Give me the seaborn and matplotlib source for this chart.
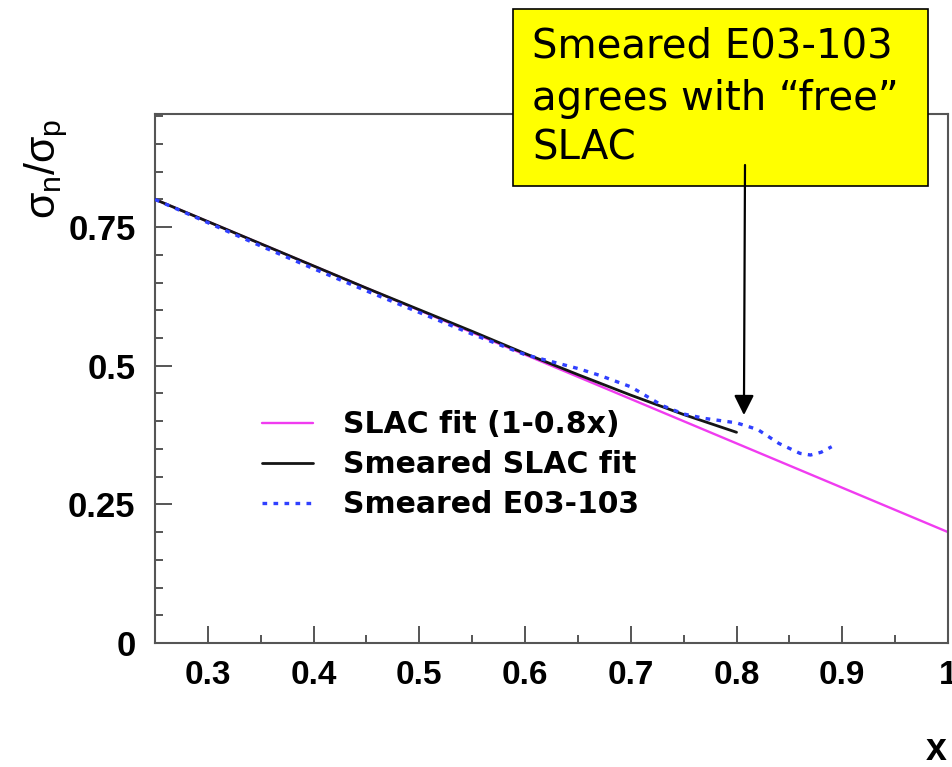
import numpy as np
import pandas as pd
import matplotlib
matplotlib.use("Agg")
import matplotlib.pyplot as plt
import seaborn as sns
from matplotlib.patches import Rectangle, FancyArrowPatch
from matplotlib.ticker import MultipleLocator

# SLAC fit sigma_n/sigma_p = 1 - 0.8 x
slac_x = [0.25, 1.0]
slac_y = [0.80, 0.20]

# Smeared SLAC fit
smear_x = [0.25, 0.30, 0.35, 0.40, 0.45, 0.50, 0.55, 0.60, 0.65, 0.70, 0.75, 0.80]
smear_y = [0.800, 0.760, 0.720, 0.680, 0.640, 0.601, 0.562, 0.522, 0.484, 0.447, 0.412, 0.380]

# Smeared E03-103
e03_x = [0.25, 0.30, 0.35, 0.40, 0.45, 0.50, 0.55, 0.60, 0.62, 0.65, 0.67, 0.70,
         0.73, 0.75, 0.77, 0.80, 0.82, 0.84, 0.86, 0.87, 0.88, 0.89]
e03_y = [0.800, 0.758, 0.716, 0.675, 0.635, 0.596, 0.557, 0.520, 0.510, 0.495, 0.483, 0.462,
         0.428, 0.413, 0.405, 0.397, 0.385, 0.360, 0.342, 0.339, 0.344, 0.354]

x_ticks = [0.3, 0.4, 0.5, 0.6, 0.7, 0.8, 0.9, 1.0]
x_tick_labels = ["0.3", "0.4", "0.5", "0.6", "0.7", "0.8", "0.9", "1"]
y_ticks = [0.0, 0.25, 0.5, 0.75]
y_tick_labels = ["0", "0.25", "0.5", "0.75"]

series_labels = ["SLAC fit (1-0.8x)", "Smeared SLAC fit", "Smeared E03-103"]
note_lines = ["Smeared E03-103", "agrees with \u201cfree\u201d", "SLAC"]

sns.set_theme(style="ticks")
plt.rcParams["font.family"] = ["Liberation Sans", "DejaVu Sans"]
plt.rcParams["text.color"] = "black"
plt.rcParams["mathtext.fontset"] = "custom"
plt.rcParams["mathtext.rm"] = "Liberation Sans"
plt.rcParams["mathtext.it"] = "Liberation Sans"
plt.rcParams["mathtext.bf"] = "Liberation Sans:bold"

W, H = 952, 767
fig = plt.figure(figsize=(W / 100, H / 100), dpi=100)
ax_l, ax_r, ax_t, ax_b = 155, 948, 114, 643
ax = fig.add_axes([ax_l / W, 1 - ax_b / H, (ax_r - ax_l) / W, (ax_b - ax_t) / H])

df_slac = pd.DataFrame({"x": slac_x, "y": slac_y})
df_smear = pd.DataFrame({"x": smear_x, "y": smear_y})
df_e03 = pd.DataFrame({"x": e03_x, "y": e03_y})

sns.lineplot(data=df_slac, x="x", y="y", ax=ax, color="#f03cf0", lw=1.7,
             label=series_labels[0], zorder=2)
sns.lineplot(data=df_smear, x="x", y="y", ax=ax, color="#151515", lw=2.0,
             label=series_labels[1], zorder=3)
sns.lineplot(data=df_e03, x="x", y="y", ax=ax, color="#3040ff", lw=2.4,
             linestyle=(0, (1.4, 1.9)), label=series_labels[2], zorder=4)

ax.set_xlim(0.25, 1.0)
ax.set_ylim(0.0, 0.954)
ax.set_xlabel("")
ax.set_ylabel("")

ax.set_xticks(x_ticks, x_tick_labels, fontsize=24, fontweight="bold")
ax.set_yticks(y_ticks, y_tick_labels, fontsize=25, fontweight="bold")
ax.xaxis.set_minor_locator(MultipleLocator(0.05))
ax.yaxis.set_minor_locator(MultipleLocator(0.05))
ax.tick_params(which="major", direction="in", length=12, width=1.4, color="#555555",
               labelcolor="black", pad=12)
ax.tick_params(which="minor", direction="in", length=6, width=1.4, color="#555555")
ax.tick_params(axis="y", which="major", pad=14)
for side in ["left", "bottom", "top", "right"]:
    ax.spines[side].set_visible(True)
    ax.spines[side].set_color("#555555")
    ax.spines[side].set_linewidth(1.5)

leg = ax.legend(loc="upper left",
                bbox_to_anchor=((262 - ax_l) / (ax_r - ax_l), (ax_b - 410) / (ax_b - ax_t)),
                frameon=False, borderpad=0, borderaxespad=0, handlelength=1.7,
                handletextpad=1.0, labelspacing=0.37,
                prop={"family": "DejaVu Sans", "size": 21.5, "weight": "bold"})
for t in leg.get_texts():
    t.set_color("black")

# axis titles
fig.text(46 / W, 1 - 169 / H, r"$\sigma_{n}/\sigma_{p}$", rotation=90,
         ha="center", va="center", fontsize=31, color="black")
fig.text(936 / W, 1 - 750 / H, "x", ha="center", va="center", fontsize=27,
         fontweight="bold", color="black")

# yellow note box
box = Rectangle((513 / W, 1 - 186 / H), (928 - 513) / W, (186 - 9) / H,
                transform=fig.transFigure, facecolor="#ffff00", edgecolor="black",
                linewidth=1.2, zorder=5)
fig.add_artist(box)
for line, base in zip(note_lines, [58, 110, 160]):
    fig.text(532 / W, 1 - base / H, line, ha="left", va="baseline", fontsize=29,
             family="DejaVu Sans", color="black", zorder=6)

# arrow from the note down to the curve
tip = ax.transData.transform((0.807, 0.411))
tip_fig = fig.transFigure.inverted().transform(tip)
arrow = FancyArrowPatch((745 / W, 1 - 165 / H), tuple(tip_fig),
                        transform=fig.transFigure, arrowstyle="-|>",
                        mutation_scale=30, color="black", lw=1.6,
                        shrinkA=0, shrinkB=0, zorder=7)
fig.add_artist(arrow)

fig.savefig("out.png", dpi=100)
